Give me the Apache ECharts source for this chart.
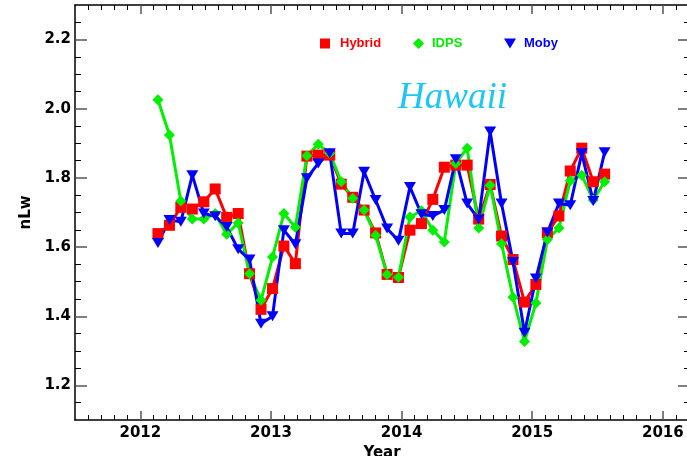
<!DOCTYPE html>
<html>
<head>
<meta charset="utf-8">
<script src="https://cdn.jsdelivr.net/npm/echarts@6/dist/echarts.min.js"></script>
<style>
html,body{margin:0;padding:0;background:#fff;}
#chart{width:687px;height:456px;}
</style>
</head>
<body>
<div id="chart"></div>
<script>
// decimal-year positions of the samples
const years = [2012.135, 2012.223, 2012.310, 2012.398, 2012.486, 2012.573, 2012.661, 2012.749, 2012.836, 2012.924,
               2013.012, 2013.099, 2013.187, 2013.275, 2013.362, 2013.450, 2013.538, 2013.626, 2013.713, 2013.801,
               2013.889, 2013.976, 2014.064, 2014.152, 2014.239, 2014.327, 2014.415, 2014.502, 2014.590, 2014.678,
               2014.765, 2014.853, 2014.941, 2015.028, 2015.116, 2015.204, 2015.291, 2015.379, 2015.467, 2015.554];
const hybrid = [1.639, 1.663, 1.715, 1.710, 1.731, 1.768, 1.686, 1.697, 1.523, 1.420,
                1.480, 1.603, 1.552, 1.863, 1.866, 1.866, 1.782, 1.744, 1.707, 1.641,
                1.521, 1.512, 1.649, 1.668, 1.738, 1.831, 1.837, 1.837, 1.681, 1.781,
                1.632, 1.564, 1.441, 1.492, 1.641, 1.690, 1.820, 1.886, 1.789, 1.811];
const idps   = [2.026, 1.924, 1.733, 1.681, 1.681, 1.697, 1.637, 1.670, 1.523, 1.446,
                1.571, 1.697, 1.657, 1.864, 1.897, 1.871, 1.789, 1.741, 1.707, 1.634,
                1.521, 1.513, 1.687, 1.705, 1.649, 1.615, 1.842, 1.886, 1.655, 1.779,
                1.610, 1.455, 1.327, 1.438, 1.622, 1.655, 1.792, 1.808, 1.736, 1.789];
const moby   = [1.612, 1.678, 1.673, 1.808, 1.697, 1.689, 1.658, 1.594, 1.564, 1.378,
                1.400, 1.649, 1.608, 1.799, 1.842, 1.871, 1.639, 1.639, 1.818, 1.736,
                1.654, 1.618, 1.774, 1.695, 1.690, 1.707, 1.854, 1.726, 1.680, 1.934,
                1.726, 1.557, 1.352, 1.509, 1.642, 1.726, 1.721, 1.871, 1.733, 1.874];
const seriesNames = ['Hybrid', 'IDPS', 'Moby'];
const xTickLabels = [2012, 2013, 2014, 2015, 2016];
const yTickLabels = [1.2, 1.4, 1.6, 1.8, 2.0, 2.2];
const xRange = [2011.5, 2016.2];
const yRange = [1.1, 2.3];

// minor tick positions
const xMinor = [];
for (let k = 2011 * 10 + 6; k <= 2016 * 10 + 1; k++) { if (k % 10 !== 0) xMinor.push(k / 10); }
const yMinor = [];
for (let k = 23; k <= 45; k++) { if (k % 4 !== 0) yMinor.push(k / 20); }

const labelFont = { fontFamily: 'DejaVu Sans', fontWeight: 'bold', fontSize: 15, color: '#000' };
const majorTickStyle = { color: '#555', width: 1.5 };
const minorTickStyle = { color: '#000', width: 1 };
const lineStyleAxis = { color: '#000', width: 1.5 };

function xAx(pos, major, showLine, len, labels) {
  const a = {
    type: 'value', position: pos, min: xRange[0], max: xRange[1],
    axisLine: { show: showLine, onZero: false, lineStyle: lineStyleAxis },
    axisTick: { show: true, inside: true, length: len, customValues: major ? xTickLabels : xMinor,
                lineStyle: major ? majorTickStyle : minorTickStyle },
    axisLabel: labels ? Object.assign({ show: true, customValues: xTickLabels, margin: 6,
                formatter: v => String(Math.round(v)) }, labelFont) : { show: false },
    splitLine: { show: false }
  };
  if (labels) {
    a.name = 'Year'; a.nameLocation = 'middle'; a.nameGap = 19; a.nameTextStyle = labelFont;
  }
  return a;
}
function yAx(pos, major, showLine, len, labels) {
  const a = {
    type: 'value', position: pos, min: yRange[0], max: yRange[1],
    axisLine: { show: showLine, onZero: false, lineStyle: lineStyleAxis },
    axisTick: { show: true, inside: true, length: len, customValues: major ? yTickLabels : yMinor,
                lineStyle: major ? majorTickStyle : minorTickStyle },
    axisLabel: labels ? Object.assign({ show: true, customValues: yTickLabels, margin: 4,
                formatter: v => v.toFixed(1) }, labelFont) : { show: false },
    splitLine: { show: false }
  };
  if (labels) {
    a.name = 'nLw'; a.nameLocation = 'middle'; a.nameGap = 40; a.nameTextStyle = labelFont;
  }
  return a;
}

const colors = ['#ff0000', '#00f000', '#0000ff'];
const pairs = arr => years.map((x, i) => [x, arr[i]]);
const legendFont = { fontFamily: 'Liberation Sans', fontWeight: 'bold', fontSize: 13 };

const option = {
  backgroundColor: '#ffffff',
  animation: false,
  grid: { left: 75, top: 5, width: 614, height: 415, containLabel: false, outerBoundsMode: 'none' },
  title: {
    text: 'Hawaii', left: 393, top: 75,
    textStyle: { fontFamily: 'Liberation Serif', fontStyle: 'italic', fontWeight: 'normal', fontSize: 37, color: '#1cc6f5' }
  },
  legend: [
    { data: [{ name: 'Hybrid', icon: 'rect' }], left: 315, top: 32, itemWidth: 10, itemHeight: 10,
      textStyle: Object.assign({ color: colors[0], padding: [0, 0, 0, 5] }, legendFont) },
    { data: [{ name: 'IDPS', icon: 'diamond' }], left: 408, top: 32, itemWidth: 11, itemHeight: 11,
      textStyle: Object.assign({ color: colors[1], padding: [0, 0, 0, 3] }, legendFont) },
    { data: [{ name: 'Moby', icon: 'path://M0,0L12,0L6,10Z' }], left: 499, top: 32, itemWidth: 12, itemHeight: 10,
      textStyle: Object.assign({ color: colors[2], padding: [0, 0, 0, 3] }, legendFont) }
  ],
  xAxis: [
    xAx('bottom', true, true, 9, true),
    xAx('bottom', false, false, 5, false),
    xAx('top', true, true, 9, false),
    xAx('top', false, false, 5, false)
  ],
  yAxis: [
    yAx('left', true, true, 12, true),
    yAx('left', false, false, 6, false),
    yAx('right', true, true, 11, false),
    yAx('right', false, false, 5, false)
  ],
  series: [
    { name: seriesNames[0], type: 'line', xAxisIndex: 0, yAxisIndex: 0, data: pairs(hybrid),
      symbol: 'rect', symbolSize: 11, itemStyle: { color: colors[0] }, lineStyle: { color: colors[0], width: 3 } },
    { name: seriesNames[1], type: 'line', xAxisIndex: 0, yAxisIndex: 0, data: pairs(idps),
      symbol: 'diamond', symbolSize: 11, itemStyle: { color: colors[1] }, lineStyle: { color: colors[1], width: 3 } },
    { name: seriesNames[2], type: 'line', xAxisIndex: 0, yAxisIndex: 0, data: pairs(moby),
      symbol: 'triangle', symbolRotate: 180, symbolSize: [12, 10], itemStyle: { color: colors[2] }, lineStyle: { color: colors[2], width: 3 } }
  ]
};

const chart = echarts.init(document.getElementById('chart'), null, { renderer: 'canvas' });
chart.setOption(option);
</script>
</body>
</html>
